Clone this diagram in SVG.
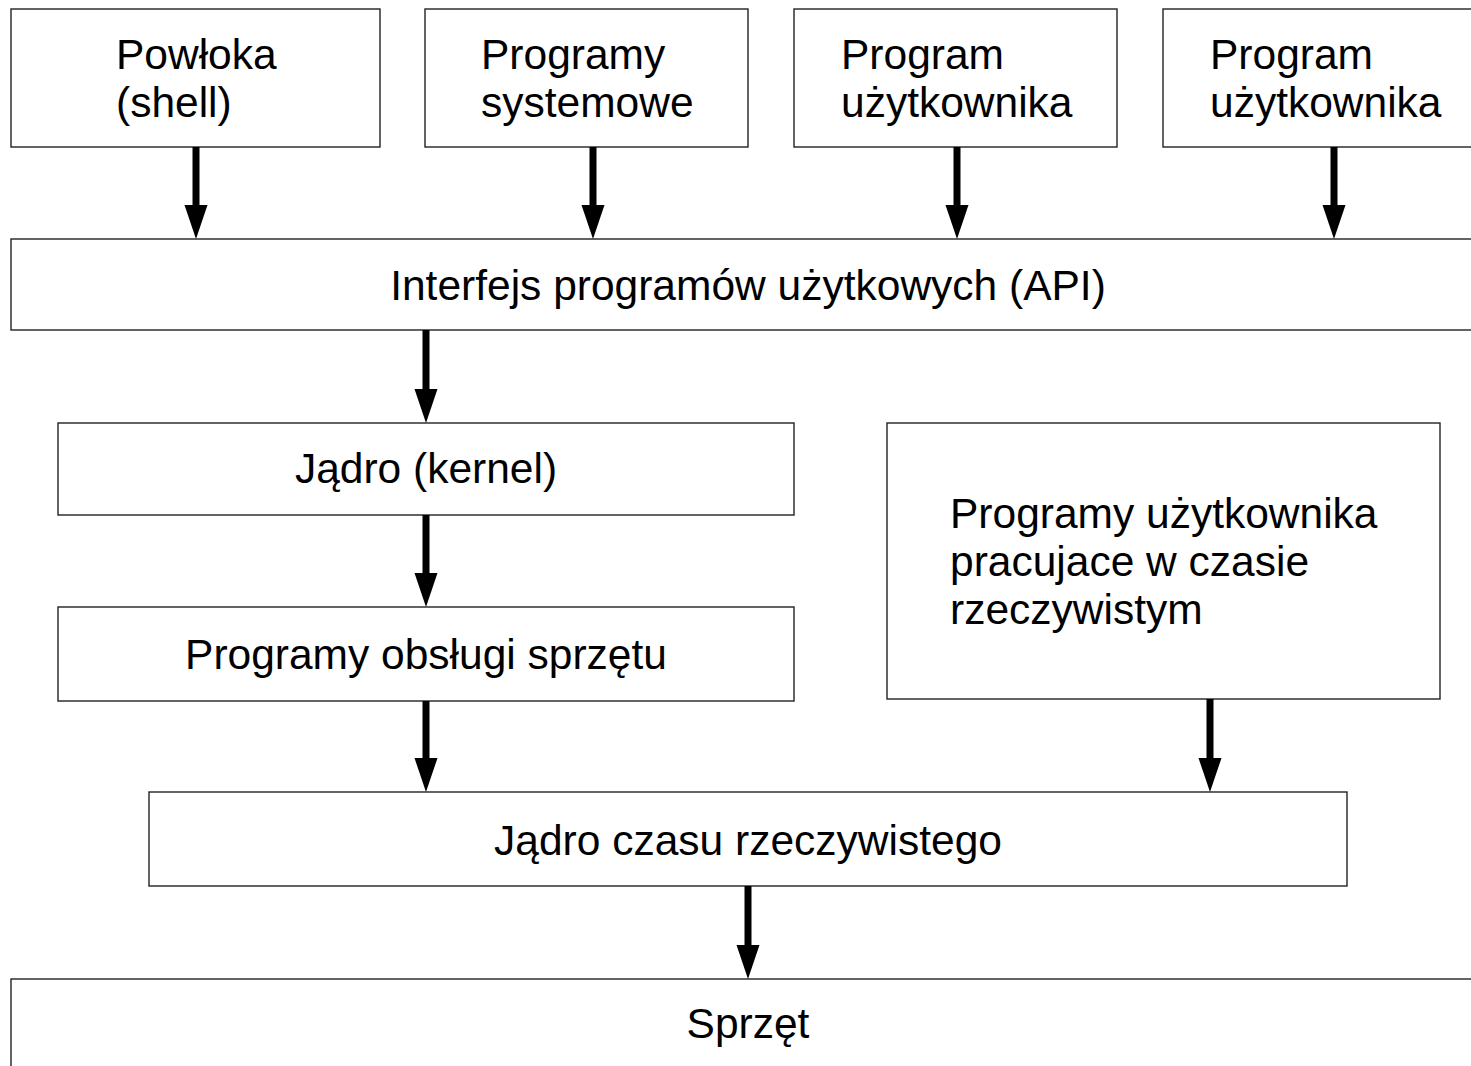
<svg xmlns="http://www.w3.org/2000/svg" width="1471" height="1066" viewBox="0 0 1471 1066">
  <style>
    .box { fill: #ffffff; stroke: #222222; stroke-width: 1.4; }
    .lbl { font-family: "Liberation Sans", Arial, sans-serif; font-size: 42.5px; fill: #000000; }
    .mid { text-anchor: middle; }
    .arrow { stroke: #000000; stroke-width: 7; fill: none; marker-end: url(#head); }
  </style>
  <defs>
    <marker id="head" markerUnits="userSpaceOnUse" markerWidth="34" markerHeight="23" refX="0" refY="11.5" orient="auto" overflow="visible">
      <path d="M0,0 L34,11.5 L0,23 Z" fill="#000000"/>
    </marker>
  </defs>
  <rect width="1471" height="1066" fill="#ffffff"/>

  <g id="shell">
    <rect class="box" x="11" y="9" width="369" height="138"/>
    <text class="lbl" x="116" y="69">Powłoka</text>
    <text class="lbl" x="116" y="117">(shell)</text>
  </g>
  <g id="system-programs">
    <rect class="box" x="425" y="9" width="323" height="138"/>
    <text class="lbl" x="481" y="69">Programy</text>
    <text class="lbl" x="481" y="117">systemowe</text>
  </g>
  <g id="user-program-1">
    <rect class="box" x="794" y="9" width="323" height="138"/>
    <text class="lbl" x="841" y="69">Program</text>
    <text class="lbl" x="841" y="117">użytkownika</text>
  </g>
  <g id="user-program-2">
    <rect class="box" x="1163" y="9" width="330" height="138"/>
    <text class="lbl" x="1210" y="69">Program</text>
    <text class="lbl" x="1210" y="117">użytkownika</text>
  </g>
  <g id="api">
    <rect class="box" x="11" y="239" width="1480" height="91"/>
    <text class="lbl mid" x="748" y="300">Interfejs programów użytkowych (API)</text>
  </g>
  <g id="kernel">
    <rect class="box" x="58" y="423" width="736" height="92"/>
    <text class="lbl mid" x="426" y="483">Jądro (kernel)</text>
  </g>
  <g id="drivers">
    <rect class="box" x="58" y="607" width="736" height="94"/>
    <text class="lbl mid" x="426" y="669">Programy obsługi sprzętu</text>
  </g>
  <g id="realtime-programs">
    <rect class="box" x="887" y="423" width="553" height="276"/>
    <text class="lbl" x="950" y="528">Programy użytkownika</text>
    <text class="lbl" x="950" y="576">pracujace w czasie</text>
    <text class="lbl" x="950" y="624">rzeczywistym</text>
  </g>
  <g id="realtime-kernel">
    <rect class="box" x="149" y="792" width="1198" height="94"/>
    <text class="lbl mid" x="748" y="855">Jądro czasu rzeczywistego</text>
  </g>
  <g id="hardware">
    <rect class="box" x="11" y="979" width="1480" height="100"/>
    <text class="lbl mid" x="748" y="1038">Sprzęt</text>
  </g>

  <g id="connectors">
    <line class="arrow" x1="196" y1="147" x2="196" y2="205"/>
    <line class="arrow" x1="593" y1="147" x2="593" y2="205"/>
    <line class="arrow" x1="957" y1="147" x2="957" y2="205"/>
    <line class="arrow" x1="1334" y1="147" x2="1334" y2="205"/>
    <line class="arrow" x1="426" y1="330" x2="426" y2="389"/>
    <line class="arrow" x1="426" y1="515" x2="426" y2="573"/>
    <line class="arrow" x1="426" y1="701" x2="426" y2="758"/>
    <line class="arrow" x1="1210" y1="699" x2="1210" y2="758"/>
    <line class="arrow" x1="748" y1="886" x2="748" y2="945"/>
  </g>
</svg>
